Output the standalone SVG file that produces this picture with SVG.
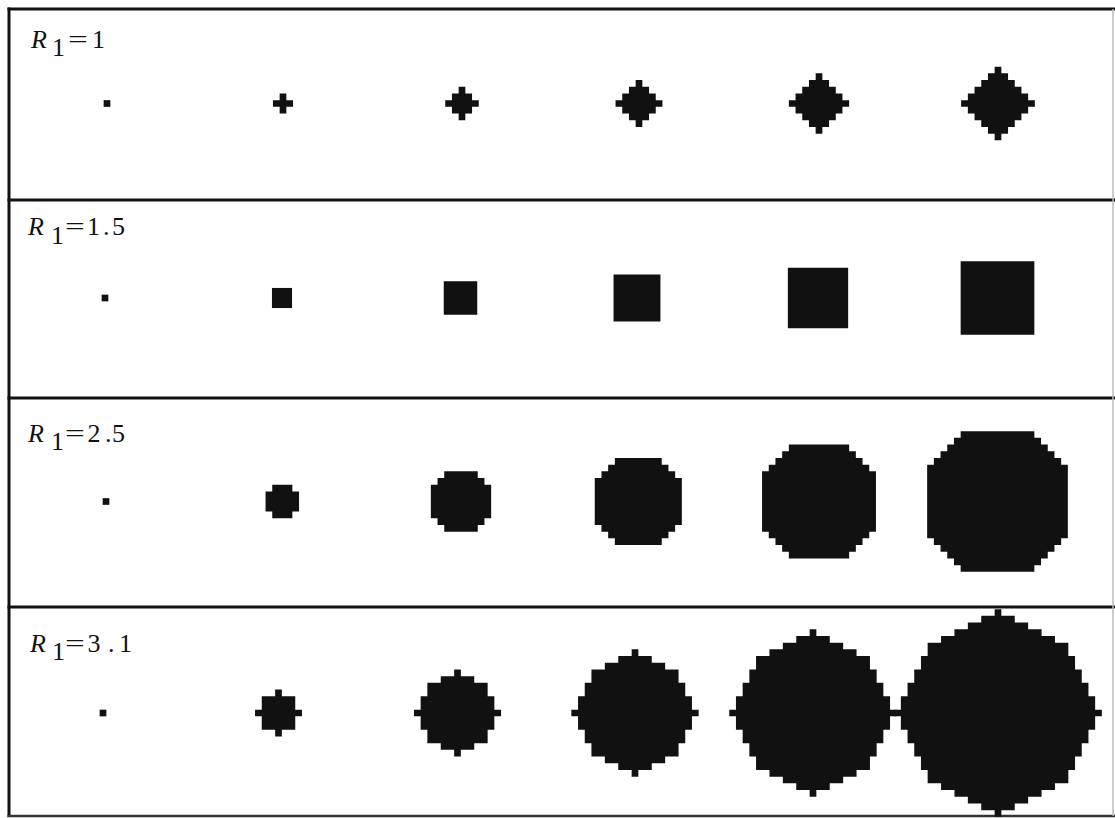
<svg xmlns="http://www.w3.org/2000/svg" xmlns:xlink="http://www.w3.org/1999/xlink" width="1115" height="818" viewBox="0 0 1115 818">
<style>
.lbl{font-family:"Liberation Serif","Times New Roman",serif;font-size:26px;fill:#111}
.it{font-style:italic}
.frame{stroke:#111;stroke-width:3;fill:none}
.blob{fill:#111}
</style>
<defs>
<path id="D0" d="M-.5 -.5h1v1h-1z"/>
<path id="D1" d="M-.5 -1.5h1v1h-1z M-1.5 -.5h3v1h-3z M-.5 .5h1v1h-1z"/>
<path id="D2" d="M-.5 -2.5h1v1h-1z M-1.5 -1.5h3v1h-3z M-2.5 -.5h5v1h-5z M-1.5 .5h3v1h-3z M-.5 1.5h1v1h-1z"/>
<path id="D3" d="M-.5 -3.5h1v1h-1z M-1.5 -2.5h3v1h-3z M-2.5 -1.5h5v1h-5z M-3.5 -.5h7v1h-7z M-2.5 .5h5v1h-5z M-1.5 1.5h3v1h-3z M-.5 2.5h1v1h-1z"/>
<path id="D4" d="M-.5 -4.5h1v1h-1z M-1.5 -3.5h3v1h-3z M-2.5 -2.5h5v1h-5z M-3.5 -1.5h7v1h-7z M-4.5 -.5h9v1h-9z M-3.5 .5h7v1h-7z M-2.5 1.5h5v1h-5z M-1.5 2.5h3v1h-3z M-.5 3.5h1v1h-1z"/>
<path id="D5" d="M-.5 -5.5h1v1h-1z M-1.5 -4.5h3v1h-3z M-2.5 -3.5h5v1h-5z M-3.5 -2.5h7v1h-7z M-4.5 -1.5h9v1h-9z M-5.5 -.5h11v1h-11z M-4.5 .5h9v1h-9z M-3.5 1.5h7v1h-7z M-2.5 2.5h5v1h-5z M-1.5 3.5h3v1h-3z M-.5 4.5h1v1h-1z"/>
<path id="S1" d="M-1.5 -1.5h3v3h-3z"/>
<path id="S2" d="M-2.5 -2.5h5v5h-5z"/>
<path id="S3" d="M-3.5 -3.5h7v7h-7z"/>
<path id="S4" d="M-4.5 -4.5h9v9h-9z"/>
<path id="S5" d="M-5.5 -5.5h11v11h-11z"/>
<path id="O1" d="M-1.5 -2.5h3v1h-3z M-2.5 -1.5h5v3h-5z M-1.5 1.5h3v1h-3z"/>
<path id="O2" d="M-2.5 -4.5h5v1h-5z M-3.5 -3.5h7v1h-7z M-4.5 -2.5h9v5h-9z M-3.5 2.5h7v1h-7z M-2.5 3.5h5v1h-5z"/>
<path id="O3" d="M-3.5 -6.5h7v1h-7z M-4.5 -5.5h9v1h-9z M-5.5 -4.5h11v1h-11z M-6.5 -3.5h13v7h-13z M-5.5 3.5h11v1h-11z M-4.5 4.5h9v1h-9z M-3.5 5.5h7v1h-7z"/>
<path id="O4" d="M-4.5 -8.5h9v1h-9z M-5.5 -7.5h11v1h-11z M-6.5 -6.5h13v1h-13z M-7.5 -5.5h15v1h-15z M-8.5 -4.5h17v9h-17z M-7.5 4.5h15v1h-15z M-6.5 5.5h13v1h-13z M-5.5 6.5h11v1h-11z M-4.5 7.5h9v1h-9z"/>
<path id="O5" d="M-5.5 -10.5h11v1h-11z M-6.5 -9.5h13v1h-13z M-7.5 -8.5h15v1h-15z M-8.5 -7.5h17v1h-17z M-9.5 -6.5h19v1h-19z M-10.5 -5.5h21v11h-21z M-9.5 5.5h19v1h-19z M-8.5 6.5h17v1h-17z M-7.5 7.5h15v1h-15z M-6.5 8.5h13v1h-13z M-5.5 9.5h11v1h-11z"/>
<path id="P1" d="M-.5 -3.5h1v1h-1z M-2.5 -2.5h5v2h-5z M-3.5 -.5h7v1h-7z M-2.5 .5h5v2h-5z M-.5 2.5h1v1h-1z"/>
<path id="P2" d="M-.5 -6.5h1v1h-1z M-2.5 -5.5h5v1h-5z M-4.5 -4.5h9v2h-9z M-5.5 -2.5h11v2h-11z M-6.5 -.5h13v1h-13z M-5.5 .5h11v2h-11z M-4.5 2.5h9v2h-9z M-2.5 4.5h5v1h-5z M-.5 5.5h1v1h-1z"/>
<path id="P3" d="M-.5 -9.5h1v1h-1z M-2.5 -8.5h5v1h-5z M-4.5 -7.5h9v1h-9z M-6.5 -6.5h13v2h-13z M-7.5 -4.5h15v2h-15z M-8.5 -2.5h17v2h-17z M-9.5 -.5h19v1h-19z M-8.5 .5h17v2h-17z M-7.5 2.5h15v2h-15z M-6.5 4.5h13v2h-13z M-4.5 6.5h9v1h-9z M-2.5 7.5h5v1h-5z M-.5 8.5h1v1h-1z"/>
<path id="P4" d="M-.5 -12.5h1v1h-1z M-2.5 -11.5h5v1h-5z M-4.5 -10.5h9v1h-9z M-6.5 -9.5h13v1h-13z M-8.5 -8.5h17v2h-17z M-9.5 -6.5h19v2h-19z M-10.5 -4.5h21v2h-21z M-11.5 -2.5h23v2h-23z M-12.5 -.5h25v1h-25z M-11.5 .5h23v2h-23z M-10.5 2.5h21v2h-21z M-9.5 4.5h19v2h-19z M-8.5 6.5h17v2h-17z M-6.5 8.5h13v1h-13z M-4.5 9.5h9v1h-9z M-2.5 10.5h5v1h-5z M-.5 11.5h1v1h-1z"/>
<path id="P5" d="M-.5 -15.5h1v1h-1z M-2.5 -14.5h5v1h-5z M-4.5 -13.5h9v1h-9z M-6.5 -12.5h13v1h-13z M-8.5 -11.5h17v1h-17z M-10.5 -10.5h21v2h-21z M-11.5 -8.5h23v2h-23z M-12.5 -6.5h25v2h-25z M-13.5 -4.5h27v2h-27z M-14.5 -2.5h29v2h-29z M-15.5 -.5h31v1h-31z M-14.5 .5h29v2h-29z M-13.5 2.5h27v2h-27z M-12.5 4.5h25v2h-25z M-11.5 6.5h23v2h-23z M-10.5 8.5h21v2h-21z M-8.5 10.5h17v1h-17z M-6.5 11.5h13v1h-13z M-4.5 12.5h9v1h-9z M-2.5 13.5h5v1h-5z M-.5 14.5h1v1h-1z"/>
</defs>
<rect width="1115" height="818" fill="#fff"/>
<g id="frame">
<line class="frame" x1="9" y1="7.5" x2="9" y2="817"/>
<line class="frame" x1="7.5" y1="9" x2="1115" y2="9"/>
<line class="frame" x1="7.5" y1="200" x2="1115" y2="200"/>
<line class="frame" x1="7.5" y1="398" x2="1115" y2="398"/>
<line class="frame" x1="7.5" y1="607" x2="1115" y2="607"/>
<line x1="7.5" y1="816" x2="1115" y2="816" stroke="#333" stroke-width="2.5"/>
<line x1="1113" y1="9" x2="1113" y2="816" stroke="#bbb" stroke-width="1.5"/>
</g>
<g id="row1">
<text class="lbl"><tspan class="it" x="31" y="48">R</tspan><tspan x="52" y="56">1</tspan><tspan x="92" y="48">1</tspan></text>
<text class="lbl" transform="translate(68,48) scale(1.35,1)">=</text>
<g class="blob">
<use xlink:href="#D0" transform="translate(107,103.5) scale(6.7)"/>
<use xlink:href="#D1" transform="translate(283,103.5) scale(6.7)"/>
<use xlink:href="#D2" transform="translate(462,103.5) scale(6.7)"/>
<use xlink:href="#D3" transform="translate(639,103.5) scale(6.7)"/>
<use xlink:href="#D4" transform="translate(819,103.5) scale(6.7)"/>
<use xlink:href="#D5" transform="translate(998,103.5) scale(6.7)"/>
</g>
</g>
<g id="row2">
<text class="lbl"><tspan class="it" x="28" y="235">R</tspan><tspan x="51" y="244">1</tspan><tspan x="87 103 112" y="235">1.5</tspan></text>
<text class="lbl" transform="translate(65,235) scale(1.35,1)">=</text>
<g class="blob">
<use xlink:href="#D0" transform="translate(105,298) scale(6.7)"/>
<use xlink:href="#S1" transform="translate(282,298) scale(6.7)"/>
<use xlink:href="#S2" transform="translate(460.5,298) scale(6.7)"/>
<use xlink:href="#S3" transform="translate(637,298) scale(6.7)"/>
<use xlink:href="#S4" transform="translate(818,298) scale(6.7)"/>
<use xlink:href="#S5" transform="translate(997.5,298) scale(6.7)"/>
</g>
</g>
<g id="row3">
<text class="lbl"><tspan class="it" x="28" y="442">R</tspan><tspan x="51" y="450">1</tspan><tspan x="87.5 105 112" y="442">2.5</tspan></text>
<text class="lbl" transform="translate(65,442) scale(1.35,1)">=</text>
<g class="blob">
<use xlink:href="#D0" transform="translate(106,501.5) scale(6.7)"/>
<use xlink:href="#O1" transform="translate(282.3,501.5) scale(6.7)"/>
<use xlink:href="#O2" transform="translate(461,501.5) scale(6.7)"/>
<use xlink:href="#O3" transform="translate(638.3,501.5) scale(6.7)"/>
<use xlink:href="#O4" transform="translate(819,501.5) scale(6.7)"/>
<use xlink:href="#O5" transform="translate(997.5,501.5) scale(6.7)"/>
</g>
</g>
<g id="row4">
<text class="lbl"><tspan class="it" x="30" y="652">R</tspan><tspan x="52" y="660">1</tspan><tspan x="87.5 108 119" y="652">3.1</tspan></text>
<text class="lbl" transform="translate(65,652) scale(1.35,1)">=</text>
<g class="blob">
<use xlink:href="#D0" transform="translate(103,713) scale(6.7)"/>
<use xlink:href="#P1" transform="translate(278.5,713) scale(6.7)"/>
<use xlink:href="#P2" transform="translate(457.5,713) scale(6.7)"/>
<use xlink:href="#P3" transform="translate(635,713) scale(6.7)"/>
<use xlink:href="#P4" transform="translate(813,713) scale(6.7)"/>
<use xlink:href="#P5" transform="translate(998,713) scale(6.7)"/>
</g>
</g>
</svg>
